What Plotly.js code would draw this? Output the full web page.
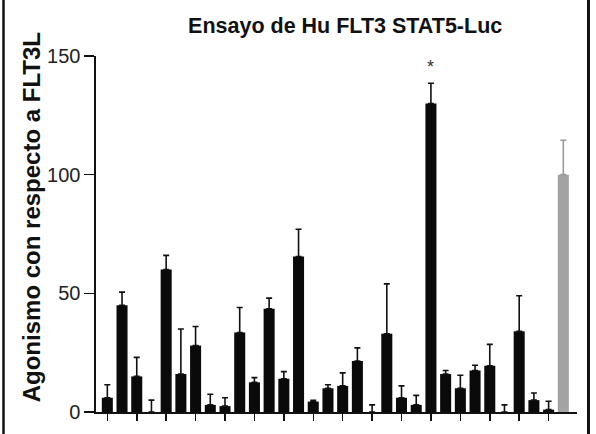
<!DOCTYPE html>
<html>
<head>
<meta charset="utf-8">
<script src="https://cdn.plot.ly/plotly-3.0.1.min.js"></script>
<style>html,body{margin:0;padding:0;background:#fff;}#chart{width:596px;height:434px;}</style>
</head>
<body>
<div id="chart"></div>
<script>
// Compounds (unlabeled in the original) and the FLT3L control
const categories = ["C1","C2","C3","C4","C5","C6","C7","C8","C9","C10","C11","C12","C13","C14","C15","C16",
  "C17","C18","C19","C20","C21","C22","C23","C24","C25","C26","C27","C28","C29","C30","C31"];
const controlCategory = ["FLT3L"];
const agonism = [6, 45, 15, 0, 60, 16, 28, 3, 2.5, 33.5, 12.5, 43.5, 14, 65.5, 4.4, 10,
  11, 21.5, 0, 33, 6, 3, 130, 16, 10, 17.5, 19.5, 0, 34, 5, 1];
const agonismErr = [5.5, 5.5, 8, 5, 6, 19, 8, 4.5, 3.5, 10.5, 2, 4.5, 3, 11.5, 0.5, 1.5,
  5.5, 5.5, 3, 21, 5, 4, 8.5, 1.5, 5.5, 2.2, 9, 3, 15, 3, 3.5];
const controlValue = [100];
const controlErr = [14.5];
const yTicks = [0, 50, 100, 150];
const yTitle = "Agonismo con respecto a FLT3L";
const chartTitle = "Ensayo de Hu FLT3 STAT5-Luc";
const starCategory = "C23";
const starValue = 145.5;

const font = "Liberation Sans, Arial, Helvetica, sans-serif";
const allCats = categories.concat(controlCategory);

const traces = [
  {
    type: "bar", x: categories, y: agonism,
    marker: {color: "#0a0a0a", line: {width: 0}},
    error_y: {type: "data", array: agonismErr, arrayminus: agonismErr.map(() => 0),
      symmetric: false, visible: true, color: "#111", thickness: 1.6, width: 3},
    showlegend: false, hoverinfo: "x+y"
  },
  {
    type: "bar", x: controlCategory, y: controlValue,
    marker: {color: "#a3a3a3", line: {width: 0}},
    error_y: {type: "data", array: controlErr, arrayminus: [0],
      symmetric: false, visible: true, color: "#9a9a9a", thickness: 1.6, width: 3},
    showlegend: false, hoverinfo: "x+y"
  }
];

const layout = {
  width: 596, height: 434,
  margin: {l: 96, r: 19, t: 56, b: 21.5, pad: 0},
  paper_bgcolor: "#fff", plot_bgcolor: "#fff",
  barmode: "overlay", bargap: 0.25,
  font: {family: font, color: "#111"},
  title: {text: "<b>" + chartTitle + "</b>", font: {family: font, size: 21.5, color: "#111"},
    x: 0.518, xref: "paper", y: 0.942, yref: "container", xanchor: "center", yanchor: "middle"},
  xaxis: {
    type: "category", categoryorder: "array", categoryarray: allCats,
    range: [-0.77, 31.93], showticklabels: false,
    showline: true, linecolor: "#111", linewidth: 2,
    ticks: "outside", ticklen: 7, tickwidth: 1.5, tickcolor: "#111",
    showgrid: false, zeroline: false, fixedrange: true
  },
  yaxis: {
    range: [0, 150], tickvals: yTicks, ticktext: yTicks.map(String),
    showline: true, linecolor: "#111", linewidth: 1.6,
    ticks: "outside", ticklen: 10, tickwidth: 1.5, tickcolor: "#111",
    tickfont: {family: font, size: 20, color: "#222"},
    showgrid: false, zeroline: false, fixedrange: true
  },
  annotations: [
    {x: starCategory, y: starValue, xref: "x", yref: "y", text: "*", showarrow: false,
      font: {family: font, size: 18, color: "#333"}, xanchor: "center", yanchor: "middle"},
    {x: -0.1351, y: 0.547, xref: "paper", yref: "paper", text: "<b>" + yTitle + "</b>",
      textangle: -90, showarrow: false, font: {family: font, size: 24, color: "#111"},
      xanchor: "center", yanchor: "middle"}
  ],
  shapes: [
    {type: "line", xref: "paper", yref: "paper", x0: -0.1923, x1: -0.1923, y0: -0.2, y1: 1.3,
      line: {color: "#111", width: 2.5}},
    {type: "line", xref: "paper", yref: "paper", x0: 1.0239, x1: 1.0239, y0: -0.2, y1: 1.3,
      line: {color: "#111", width: 3}}
  ]
};

Plotly.newPlot("chart", traces, layout, {displayModeBar: false, staticPlot: true});
</script>
</body>
</html>
